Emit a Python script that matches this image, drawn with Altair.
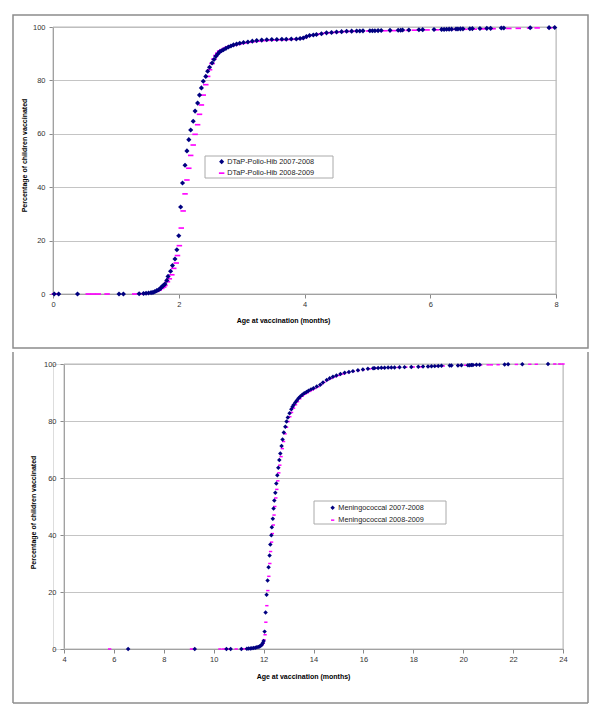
import altair as alt
import pandas as pd

# ---------------- data ----------------
dtap_0708_x = [0.02, 0.09, 0.39, 1.05, 1.12, 1.37, 1.44, 1.48, 1.52, 1.56, 1.59, 1.62, 1.65, 1.68, 1.70,
               1.72, 1.74, 1.76, 1.78, 1.81, 1.83, 1.87, 1.90, 1.94, 1.97, 2.00, 2.03, 2.06, 2.10, 2.13,
               2.16, 2.19, 2.23, 2.26, 2.30, 2.33, 2.36, 2.39, 2.43, 2.46, 2.49, 2.53, 2.56, 2.59, 2.62,
               2.65, 2.68, 2.71, 2.75, 2.79, 2.83, 2.87, 2.92, 2.97, 3.03, 3.10, 3.17, 3.24, 3.32, 3.40,
               3.48, 3.56, 3.64, 3.71, 3.79, 3.87, 3.93, 3.98, 4.03, 4.08, 4.14, 4.19, 4.27, 4.35, 4.43,
               4.51, 4.59, 4.67, 4.75, 4.83, 4.88, 4.93, 5.04, 5.08, 5.12, 5.17, 5.22, 5.36, 5.49, 5.53,
               5.56, 5.66, 5.82, 5.88, 6.06, 6.18, 6.22, 6.26, 6.30, 6.34, 6.41, 6.44, 6.48, 6.52, 6.63,
               6.67, 6.79, 6.90, 6.96, 7.13, 7.17, 7.59, 7.89, 7.98]
dtap_0708_y = [0, 0, 0, 0, 0, 0.1, 0.2, 0.3, 0.4, 0.5, 0.6, 0.9, 1.25, 1.6, 1.9,
               2.4, 2.9, 3.3, 3.7, 5.1, 6.6, 8.5, 10.7, 13.1, 16.6, 21.8, 32.6, 41.6, 48.2, 53.6,
               57.8, 61.4, 64.7, 68.5, 71.5, 74.5, 77.2, 79.7, 81.5, 83.4, 84.9, 86.5, 87.8, 89.0, 89.9,
               90.7, 91.1, 91.5, 92.0, 92.5, 92.9, 93.3, 93.6, 93.9, 94.2, 94.4, 94.7, 94.9, 95.1, 95.2,
               95.3, 95.3, 95.4, 95.4, 95.5, 95.5, 95.7, 95.9, 96.4, 96.8, 97.0, 97.2, 97.5, 97.8, 97.95,
               98.1, 98.25, 98.4, 98.45, 98.5, 98.5, 98.55, 98.6, 98.6, 98.6, 98.65, 98.7, 98.75, 98.8, 98.8,
               98.85, 98.9, 98.95, 99.0, 99.05, 99.1, 99.1, 99.15, 99.2, 99.2, 99.25, 99.25, 99.3, 99.3, 99.35,
               99.4, 99.45, 99.5, 99.5, 99.6, 99.6, 99.7, 99.75, 99.8]

dtap_0809_x = [0.02, 0.56, 0.64, 0.72, 0.86, 1.30, 1.40, 1.46, 1.49, 1.53, 1.57, 1.61, 1.65, 1.69, 1.73,
               1.76, 1.78, 1.82, 1.85, 1.89, 1.92, 1.96, 1.98, 2.01, 2.04, 2.07, 2.10, 2.13, 2.16, 2.19,
               2.23, 2.26, 2.30, 2.33, 2.36, 2.39, 2.43, 2.46, 2.49, 2.53, 2.56, 2.59, 2.62, 2.65, 2.69,
               2.73, 2.77, 2.81, 2.86, 2.91, 2.97, 3.04, 3.11, 3.18, 3.26, 3.34, 3.42, 3.50, 3.58, 3.66,
               3.74, 3.82, 3.90, 3.96, 4.01, 4.06, 4.12, 4.18, 4.26, 4.34, 4.42, 4.50, 4.58, 4.66, 4.74,
               4.82, 4.92, 5.02, 5.15, 5.28, 5.42, 5.55, 5.65, 5.75, 5.85, 5.95, 6.10, 6.25, 6.40, 6.55,
               6.70, 6.85, 7.00, 7.25, 7.40, 7.58, 7.70, 7.90]
dtap_0809_y = [0, 0, 0, 0, 0, 0, 0.1, 0.2, 0.25, 0.35, 0.5, 0.7, 1.0, 1.5, 2.1,
               2.6, 3.2, 4.6, 5.7, 7.2, 9.6, 11.6, 14.4, 18.1, 24.7, 31.1, 37.5, 42.7, 47.1, 51.9,
               55.8, 59.8, 63.4, 67.3, 70.8, 74.5, 78.4, 81.5, 84.0, 86.3, 88.0, 89.3, 90.2, 91.0, 91.5,
               92.0, 92.4, 92.8, 93.1, 93.4, 93.7, 94.0, 94.3, 94.5, 94.7, 94.9, 95.0, 95.1, 95.2, 95.2,
               95.3, 95.4, 95.5, 95.7, 96.1, 96.6, 96.9, 97.1, 97.4, 97.7, 97.85, 98.0, 98.15, 98.3, 98.35,
               98.4, 98.45, 98.5, 98.55, 98.6, 98.65, 98.7, 98.75, 98.8, 98.85, 98.9, 98.95, 99.0, 99.1, 99.15,
               99.2, 99.3, 99.35, 99.45, 99.5, 99.6, 99.65, 99.7]

men_0708_x = [6.57, 9.24, 10.51, 10.68, 11.11, 11.33, 11.40, 11.47, 11.53, 11.60, 11.67, 11.73, 11.79, 11.84,
              11.89, 11.93, 11.97, 12.00, 12.04, 12.08, 12.12, 12.16, 12.20, 12.24, 12.27, 12.31, 12.33, 12.37,
              12.40, 12.43, 12.47, 12.51, 12.55, 12.59, 12.63, 12.67, 12.72, 12.76, 12.81, 12.87, 12.92, 12.97,
              13.04, 13.11, 13.16, 13.20, 13.27, 13.33, 13.40, 13.47, 13.55, 13.63, 13.72, 13.80, 13.90, 14.00,
              14.13, 14.27, 14.38, 14.53, 14.65, 14.78, 14.92, 15.08, 15.25, 15.42, 15.58, 15.78, 15.98, 16.18,
              16.39, 16.45, 16.59, 16.72, 16.85, 16.99, 17.12, 17.25, 17.45, 17.65, 17.92, 18.20, 18.39, 18.59,
              18.73, 18.86, 19.00, 19.13, 19.46, 19.53, 19.79, 19.93, 20.19, 20.26, 20.33, 20.39, 20.53, 20.66,
              21.66, 21.80, 22.37, 23.40]
men_0708_y = [0, 0, 0, 0, 0, 0.1, 0.15, 0.2, 0.3, 0.35, 0.45, 0.6, 0.75, 0.9,
              1.2, 1.5, 2.1, 2.8, 6.1, 12.8, 19.0, 24.0, 28.7, 32.8, 36.7, 39.9, 42.7, 45.7,
              49.3, 52.1, 54.8, 58.1, 61.0, 63.6, 66.3, 68.6, 71.2, 73.5, 76.0, 78.0, 79.8, 81.2,
              82.7, 84.1, 85.0, 85.6, 86.5, 87.2, 88.0, 88.6, 89.2, 89.7, 90.2, 90.6, 91.1, 91.5,
              92.1, 92.7, 93.5, 94.4, 95.0, 95.5, 96.0, 96.5, 96.9, 97.2, 97.5, 97.8, 98.1, 98.3,
              98.5, 98.55, 98.6, 98.65, 98.7, 98.75, 98.8, 98.8, 98.85, 98.9, 98.95, 99.0, 99.1, 99.15,
              99.2, 99.25, 99.3, 99.35, 99.45, 99.45, 99.5, 99.55, 99.6, 99.6, 99.65, 99.65, 99.7, 99.7,
              99.85, 99.9, 99.95, 100]

men_0809_x = [5.83, 9.11, 10.25, 10.40, 10.55, 10.90, 11.20, 11.35, 11.50, 11.62, 11.72, 11.80, 11.87, 11.93,
              11.98, 12.02, 12.06, 12.09, 12.13, 12.17, 12.21, 12.25, 12.28, 12.32, 12.35, 12.39, 12.42, 12.45,
              12.49, 12.53, 12.57, 12.61, 12.65, 12.70, 12.75, 12.80, 12.86, 12.92, 12.98, 13.05, 13.12, 13.20,
              13.28, 13.36, 13.45, 13.55, 13.65, 13.75, 13.85, 13.95, 14.05, 14.18, 14.30, 14.42, 14.55, 14.70,
              14.85, 15.00, 15.20, 15.40, 15.60, 15.80, 16.00, 16.25, 16.50, 16.80, 17.10, 17.40, 17.70, 18.00,
              18.30, 18.60, 18.90, 19.20, 19.50, 19.80, 20.10, 20.40, 20.70, 21.00, 21.13, 21.40, 22.13, 22.67,
              22.93, 23.67, 23.87, 24.00]
men_0809_y = [0, 0, 0, 0, 0, 0, 0.05, 0.1, 0.2, 0.3, 0.5, 0.7, 1.0, 1.4,
              2.0, 3.2, 5.0, 9.4, 15.2, 20.5, 25.5, 30.0, 34.2, 37.5, 40.5, 43.5, 47.0, 50.0,
              53.0, 56.0, 59.0, 61.8, 64.5, 67.5, 70.3, 72.8, 75.5, 77.8, 79.8, 81.5, 83.0, 84.5,
              85.7, 86.8, 87.8, 88.7, 89.4, 89.9, 90.4, 90.9, 91.4, 92.0, 92.8, 93.6, 94.3, 94.9,
              95.5, 96.0, 96.5, 97.0, 97.4, 97.7, 98.0, 98.3, 98.5, 98.6, 98.7, 98.8, 98.9, 98.95,
              99.0, 99.1, 99.2, 99.3, 99.4, 99.5, 99.55, 99.6, 99.65, 99.7, 99.7, 99.75, 99.85, 99.9,
              99.9, 100, 100, 100]

top_series = ["DTaP-Polio-Hib 2007-2008", "DTaP-Polio-Hib 2008-2009"]
bottom_series = ["Meningococcal 2007-2008", "Meningococcal 2008-2009"]
top_x_ticks = [0, 2, 4, 6, 8]
bottom_x_ticks = [4, 6, 8, 10, 12, 14, 16, 18, 20, 22, 24]
y_ticks = [0, 20, 40, 60, 80, 100]

NAVY = "#000080"
MAGENTA = "#FF00FF"
FONT = "Liberation Sans"
Y_TITLE = "Percentage of children vaccinated"
X_TITLE = "Age at vaccination (months)"
FRAME = "#8c8c8c"


def make_df(names, xs1, ys1, xs2, ys2):
    return pd.concat([
        pd.DataFrame({"age": xs1, "pct": ys1, "series": names[0]}),
        pd.DataFrame({"age": xs2, "pct": ys2, "series": names[1]}),
    ], ignore_index=True)


one = pd.DataFrame({"k": [0]})


def frame_layers(box, top_edge):
    """Panel frame: a rect (sets the bounds) plus visible edges."""
    rect = alt.Chart(one).mark_rect(filled=False, stroke=FRAME, strokeWidth=1.5,
                                    strokeOpacity=1 if top_edge else 0).encode(
        x=alt.value(box[0]), x2=alt.value(box[1]), y=alt.value(box[2]), y2=alt.value(box[3])
    )
    if top_edge:
        return [rect]
    left = alt.Chart(one).mark_rule(stroke=FRAME, strokeWidth=1.5).encode(
        x=alt.value(box[0]), y=alt.value(box[2]), y2=alt.value(box[3]))
    right = alt.Chart(one).mark_rule(stroke=FRAME, strokeWidth=1.5).encode(
        x=alt.value(box[1]), y=alt.value(box[2]), y2=alt.value(box[3]))
    bottom = alt.Chart(one).mark_rule(stroke=FRAME, strokeWidth=1.5).encode(
        x=alt.value(box[0]), x2=alt.value(box[1]), y=alt.value(box[3]))
    return [rect, left, right, bottom]


def panel(df, names, x_domain, x_ticks, w, h, x0, dash_path, sizes, leg, ytitle, xtitle, box, top_edge):
    # x0: left inset of the plot area inside the panel group
    plotborder = alt.Chart(one).mark_rect(filled=False, stroke="#b8b8b8", strokeWidth=1).encode(
        x=alt.value(x0), x2=alt.value(w), y=alt.value(0), y2=alt.value(h)
    )
    legbox = alt.Chart(one).mark_rect(fill="white", stroke="#aaaaaa", strokeWidth=1).encode(
        x=alt.value(leg["bx"][0]), x2=alt.value(leg["bx"][1]),
        y=alt.value(leg["by"][0]), y2=alt.value(leg["by"][1])
    )
    pts = alt.Chart(df).mark_point(filled=True, opacity=1, strokeWidth=0).encode(
        x=alt.X("age:Q",
                scale=alt.Scale(domain=x_domain, nice=False, zero=False, range=[x0, w]),
                axis=alt.Axis(values=x_ticks, grid=False, title=X_TITLE,
                              domainColor="#8a8a8a", tickColor="#8a8a8a", tickSize=4,
                              labelFont=FONT, labelFontSize=7.5, labelColor="#333333", labelPadding=2,
                              labelFlush=False,
                              titleFont=FONT, titleFontSize=7, titleFontWeight="bold",
                              titleColor="#000000", titleX=xtitle[0], titleY=xtitle[1],
                              titleBaseline="middle", titleAlign="center")),
        y=alt.Y("pct:Q",
                scale=alt.Scale(domain=[0, 100], nice=False),
                axis=alt.Axis(values=y_ticks, grid=True, gridColor="#c4c4c4", gridWidth=1,
                              title=Y_TITLE, offset=-x0,
                              domainColor="#8a8a8a", tickColor="#8a8a8a", tickSize=4,
                              labelFont=FONT, labelFontSize=7.5, labelColor="#333333", labelPadding=4,
                              labelFlush=False,
                              titleFont=FONT, titleFontSize=7, titleFontWeight="bold",
                              titleColor="#000000", titleX=ytitle[0], titleY=ytitle[1],
                              titleAngle=270, titleBaseline="middle", titleAlign="center")),
        color=alt.Color("series:N",
                        scale=alt.Scale(domain=names, range=[NAVY, MAGENTA]),
                        legend=alt.Legend(orient="none", legendX=leg["x"], legendY=leg["y"],
                                          title=None, labelFont=FONT, labelFontSize=7.3,
                                          labelColor="#222222", symbolSize=sizes[0],
                                          symbolStrokeWidth=0, rowPadding=leg["rp"],
                                          labelOffset=2, padding=0)),
        shape=alt.Shape("series:N",
                        scale=alt.Scale(domain=names, range=["diamond", dash_path]),
                        legend=None),
        size=alt.Size("series:N", scale=alt.Scale(domain=names, range=sizes), legend=None),
        order=alt.Order("series:N", sort="descending"),
    )
    layers = frame_layers(box, top_edge) + [plotborder, legbox, pts]
    return alt.layer(*layers).properties(width=w, height=h)


top_df = make_df(top_series, dtap_0708_x, dtap_0708_y, dtap_0809_x, dtap_0809_y)
bot_df = make_df(bottom_series, men_0708_x, men_0708_y, men_0809_x, men_0809_y)

TW, TH = 503, 267
BW, BH = 510, 285   # bottom plot area spans 11..510 inside its group

top = panel(top_df, top_series, [0, 8], top_x_ticks, TW, TH, 0,
            "M-1,-0.3H1V0.3H-1Z", [26, 30],
            {"x": 165, "y": 131, "rp": 3.5, "bx": [152, 280], "by": [129, 151]},
            [-29, 128], [230, 26],
            [-40, 535, -12, TH + 54], True)

bottom = panel(bot_df, bottom_series, [4, 24], bottom_x_ticks, BW, BH, 11,
               "M-1,-0.45H1V0.45H-1Z", [20, 11],
               {"x": 276, "y": 140, "rp": 4.5, "bx": [261, 393], "by": [137, 160]},
               [-31, 148], [250, 27],
               [-40, 535, -12, BH + 54], False)

chart = alt.concat(top, bottom, columns=1, spacing=0, bounds="full").properties(
    padding={"left": 3, "top": 5, "right": 2, "bottom": 2}
).resolve_scale(
    color="independent", shape="independent", size="independent", x="independent", y="independent"
).resolve_legend(color="independent", shape="independent", size="independent"
).configure_view(stroke=None).configure(background="white")

chart.save("out.html", embed_options={"renderer": "svg", "actions": False})
